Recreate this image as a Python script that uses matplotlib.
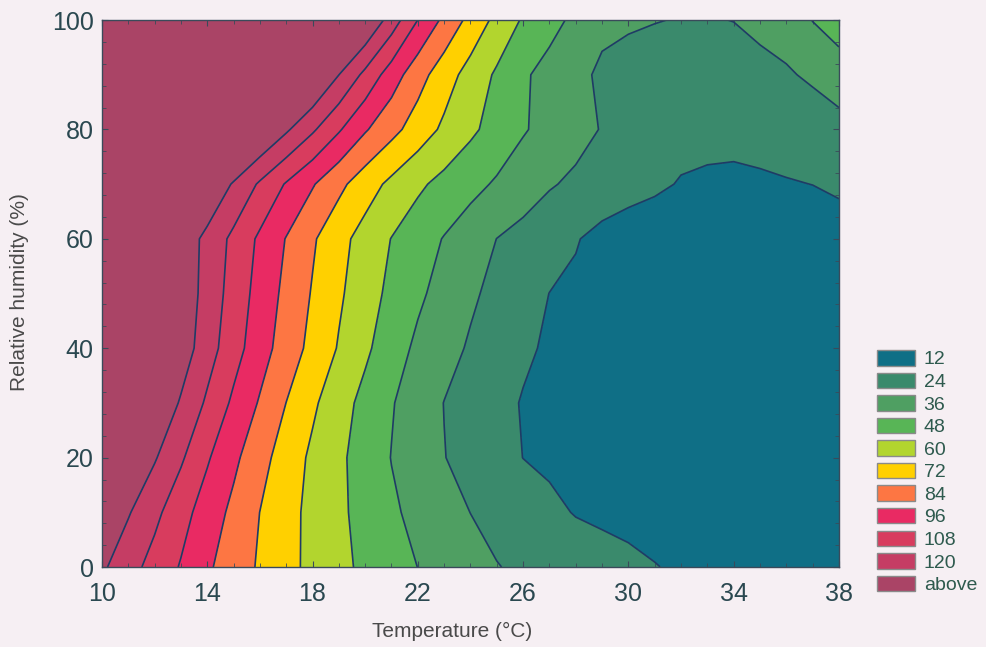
import matplotlib.pyplot as plt
import numpy as np
from matplotlib.patches import Patch

# grid of the response surface
temps = list(range(10, 39))          # Temperature (°C), 1 degree steps
hums = [0, 10, 20, 30, 40, 50, 60, 70, 80, 90, 100]   # Relative humidity (%)

# one row per humidity level, values at T = 10..38
rh00 = [122, 112.6, 103.7, 95.1, 85.8, 78, 70.6, 63.5, 57, 51, 45.6, 40.8, 35.9, 32.1, 28.3,
        24.4, 22.2, 20.3, 18.3, 16.3, 14.4, 12.4, 10.5, 9.5, 9, 8.5, 8.5, 8.5, 9]
rh10 = [131, 121, 111, 100.4, 90.5, 81.2, 71.9, 64, 56.8, 50.3, 44, 37.8, 32.9, 28.4, 23.9,
        20.8, 17.7, 14.5, 11.4, 10, 9, 8, 7.5, 7, 7, 7, 7, 7, 7.5]
rh20 = [144, 132.5, 121.1, 109.7, 97.3, 86.6, 76.2, 66.5, 57.75, 50.25, 42.9, 35.7, 30, 24.3, 20.1,
        16.1, 11.9, 10, 8.5, 7.5, 7, 6.5, 6.5, 6.5, 6.5, 6.5, 6.5, 6.5, 7]
rh30 = [156.5, 144, 131.3, 118.7, 106.1, 93.8, 82.9, 71.9, 62, 52.9, 44.5, 36.8, 30.2, 23.8, 19.6,
        15.4, 11.3, 9.5, 8, 7, 6.5, 6, 6, 6, 6, 6, 6, 6, 6.5]
rh40 = [166.5, 153, 140, 126.7, 113.3, 100.8, 89.1, 78.5, 68.6, 59.1, 50.2, 41.3, 33.7, 28, 22.7,
        18.2, 13.8, 10.5, 8.5, 7.5, 7, 6.5, 6, 6, 6, 6, 6, 6, 6.5]
rh50 = [166, 153.4, 140.8, 128.2, 115.6, 103.2, 91.6, 81, 71.1, 61.8, 53.1, 45.2, 38.1, 31.8, 25.8,
        20.9, 16.4, 11.9, 10, 8.5, 7.5, 7, 7, 7, 7, 7, 7, 7, 7]
rh60 = [162, 150.8, 139.4, 128, 116.6, 105.1, 93.9, 83.5, 73.5, 63.8, 55.4, 47.7, 41.5, 35.4, 29.7,
        23.9, 20.25, 16.5, 12.75, 8.5, 6, 5.5, 5.5, 5.5, 5.5, 5.5, 5.5, 6, 6.5]
rh70 = [181.7, 169, 156.5, 144, 131.3, 118.7, 106.3, 95, 85, 75, 65.5, 57.2, 50.1, 44.5, 39.5,
        34.6, 29.8, 25, 21.9, 19.2, 16.5, 13.9, 11.3, 10.8, 10.6, 10.8, 11.3, 12.1, 14]
rh80 = [205.8, 193.8, 181.8, 169.8, 157.8, 145.8, 133.8, 121.8, 109.8, 97.3, 85.2, 75.7, 66.5, 57.75, 50.25,
        43.5, 37, 32.2, 27.8, 23.4, 20, 17.5, 15.5, 14.2, 14, 15, 17, 19, 21.1]
rh90 = [255, 240, 225, 210, 195, 180, 165, 150, 135, 120.1, 105, 90, 76.8, 65.5, 55.4,
        46.3, 37.7, 31.9, 26.8, 22.2, 20, 18.5, 17.5, 17.5, 18.5, 20.5, 23, 25.45, 28.35]
rh100 = [280, 265, 250, 235, 220, 205, 190, 175, 160, 145, 132.6, 114.5, 95.9, 81.3, 68.4,
         56.7, 46.7, 40, 33.3, 26.4, 25.4, 24.4, 23.5, 23.3, 24.2, 26.9, 28, 36.3, 43.4]

levels = [0, 12, 24, 36, 48, 60, 72, 84, 96, 108, 120, 400]
legend_labels = ['12', '24', '36', '48', '60', '72', '84', '96', '108', '120', 'above']
band_colors = ['#0f6f86', '#3a8a6c', '#4f9f62', '#58b556', '#b2d52e', '#ffd000',
               '#fd7643', '#e92a63', '#d83c5e', '#c53d64', '#aa4466']

Z = np.array([rh00, rh10, rh20, rh30, rh40, rh50, rh60, rh70, rh80, rh90, rh100])

bg = '#f6eff3'
tick_col = '#2a4850'

fig = plt.figure(figsize=(9.87, 6.47), dpi=100, facecolor=bg)
ax = fig.add_axes([0.1033, 0.1236, 0.7467, 0.8454])

ax.contourf(temps, hums, Z, levels=levels, colors=band_colors)
ax.contour(temps, hums, Z, levels=levels[1:-1], colors='#1f3b66', linewidths=1.2)

ax.set_xlim(10, 38)
ax.set_ylim(0, 100)
ax.set_xticks(range(10, 39, 4))
ax.set_xticks(range(10, 39), minor=True)
ax.set_yticks(range(0, 101, 20))
ax.set_yticks(range(0, 101, 4), minor=True)
ax.tick_params(which='both', direction='in', top=True, right=True, colors='#3a4a5a',
               labelcolor=tick_col, labelsize=18)
ax.tick_params(which='major', length=4)
ax.tick_params(which='minor', length=3)
ax.tick_params(axis='x', pad=11)
ax.tick_params(axis='y', pad=6)
for lab in ax.get_xticklabels() + ax.get_yticklabels():
    lab.set_family('Liberation Sans')
for s in ax.spines.values():
    s.set_color('#3a4a5a')
    s.set_linewidth(1.0)

fig.text(452 / 987, 1 - 631 / 647, 'Temperature (°C)', ha='center', va='center',
         fontsize=15, color='#4a4a4a', family='Liberation Sans')
fig.text(20 / 987, 1 - 292 / 647, 'Relative humidity (%)', ha='center', va='center',
         rotation=90, fontsize=15, color='#4a4a4a', family='Liberation Sans')

handles = [Patch(facecolor=c, edgecolor='#8a8a8a', linewidth=1.0) for c in band_colors]
leg = fig.legend(handles, legend_labels, loc='upper left', bbox_to_anchor=(877 / 987, 1 - 350 / 647),
                 frameon=False, borderpad=0, handlelength=1.95, handleheight=0.85,
                 handletextpad=0.45, labelspacing=0.21, borderaxespad=0,
                 prop={'family': 'Liberation Sans', 'size': 14})
for t in leg.get_texts():
    t.set_color('#2e5a4e')

fig.savefig('out.png', dpi=100, facecolor=bg)
